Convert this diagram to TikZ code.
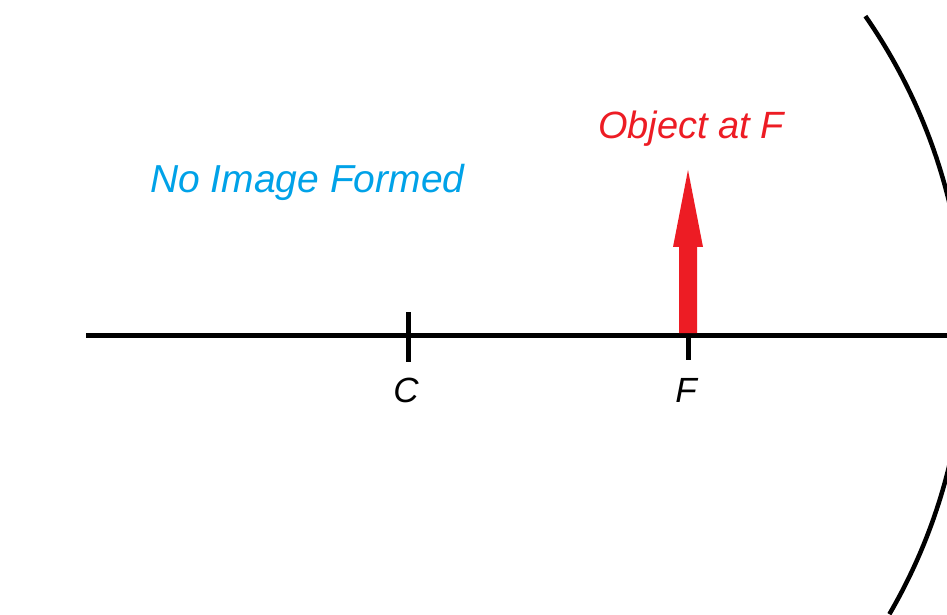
\documentclass[tikz,border=0pt]{standalone}
\usepackage{fontspec}
\setmainfont{Liberation Sans}
\definecolor{imgblue}{RGB}{0,162,232}
\definecolor{objred}{RGB}{237,28,36}
\begin{document}
\begin{tikzpicture}[x=1pt,y=1pt,
  axisline/.style={line width=5pt},
  tickline/.style={line width=5pt},
  mirrorline/.style={line width=4.5pt},
  lbl/.style={inner sep=0pt,font=\fontsize{38}{40}\selectfont\itshape},
  ptlbl/.style={inner sep=0pt,font=\fontsize{35}{38}\selectfont\itshape}]
\useasboundingbox[fill=white] (0,0) rectangle (947,614);
% axis
\coordinate (axL) at (86,279);
\coordinate (axR) at (947,279);
\draw[axisline] (axL) -- (axR);
% C tick
\coordinate (Ct) at (408,302);
\coordinate (Cb) at (408,252);
\draw[tickline] (Ct) -- (Cb);
% F tick
\coordinate (Ft) at (688,279);
\coordinate (Fb) at (688,254);
\draw[tickline] (Ft) -- (Fb);
% labels
\node[ptlbl,anchor=base] (Clbl) at (406,212) {C};
\node[ptlbl,anchor=base] (Flbl) at (686,212) {F};
% object arrow
\fill[objred] (679,281) -- (679,367) -- (673,367) -- (688,444) -- (703,367) -- (697,367) -- (697,281) -- cycle;
\node[lbl,text=objred,anchor=base west] (obj) at (598,475) {Object at F};
\node[lbl,font=\fontsize{39}{41}\selectfont\itshape,text=imgblue,anchor=base west] (noimg) at (150,421) {No Image Formed};
% mirror
\coordinate (Cc) at (408,280);
\draw[mirrorline] ([shift={(34.8:557pt)}]Cc) arc[start angle=34.8,end angle=-30.2,radius=557pt];
\end{tikzpicture}
\end{document}
